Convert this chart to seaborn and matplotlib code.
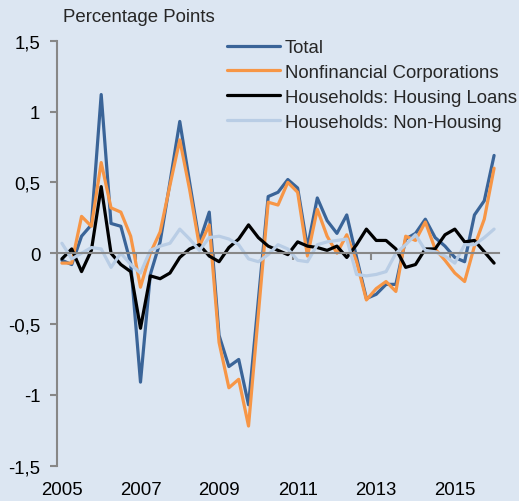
import pandas as pd
import seaborn as sns
import matplotlib.pyplot as plt

# quarterly contributions, 2005Q1 .. 2016Q1
quarters = pd.period_range("2005Q1", "2016Q1", freq="Q")

total = [-0.05, -0.08, 0.12, 0.20, 1.12, 0.21, 0.19, -0.07, -0.91, -0.15,
         0.08, 0.50, 0.93, 0.50, 0.08, 0.29, -0.58, -0.80, -0.75, -1.07,
         -0.33, 0.40, 0.43, 0.52, 0.46, 0.04, 0.39, 0.23, 0.14, 0.27,
         -0.03, -0.32, -0.29, -0.22, -0.22, 0.10, 0.14, 0.24, 0.11, 0.05,
         -0.03, -0.06, 0.27, 0.37, 0.69]
nonfin = [-0.07, -0.07, 0.26, 0.19, 0.64, 0.32, 0.29, 0.12, -0.24, 0.00,
          0.15, 0.48, 0.80, 0.45, 0.05, 0.20, -0.63, -0.95, -0.89, -1.22,
          -0.43, 0.36, 0.34, 0.50, 0.43, -0.02, 0.31, 0.12, 0.00, 0.13,
          -0.06, -0.33, -0.25, -0.20, -0.27, 0.12, 0.09, 0.22, 0.03, -0.05,
          -0.14, -0.20, 0.05, 0.24, 0.60]
housing = [-0.04, 0.03, -0.13, 0.02, 0.47, 0.00, -0.08, -0.13, -0.53, -0.16,
           -0.18, -0.14, -0.03, 0.03, 0.06, -0.02, -0.06, 0.04, 0.10, 0.20,
           0.11, 0.05, 0.02, -0.01, 0.08, 0.05, 0.04, 0.02, 0.05, -0.03,
           0.06, 0.17, 0.09, 0.09, 0.03, -0.10, -0.08, 0.03, 0.03, 0.13,
           0.17, 0.08, 0.09, 0.01, -0.07]
non_housing = [0.07, -0.04, 0.00, 0.04, 0.03, -0.10, 0.00, -0.08, -0.14, 0.02,
               0.05, 0.07, 0.17, 0.10, 0.02, 0.11, 0.12, 0.10, 0.06, -0.04,
               -0.06, -0.01, 0.06, 0.03, -0.05, -0.06, 0.06, 0.08, 0.09, 0.10,
               -0.15, -0.16, -0.15, -0.13, 0.00, 0.06, 0.13, 0.02, 0.01, -0.02,
               -0.07, 0.06, 0.06, 0.11, 0.17]

series_names = ["Total", "Nonfinancial Corporations",
                "Households: Housing Loans", "Households: Non-Housing"]
colors = ["#3A6498", "#F79646", "#000000", "#B9CDE5"]
tick_years = [2005, 2007, 2009, 2011, 2013, 2015]
y_ticks = [-1.5, -1, -0.5, 0, 0.5, 1, 1.5]
y_tick_labels = ["-1,5", "-1", "-0,5", "0", "0,5", "1", "1,5"]

bg = "#DCE6F2"
grey = "#878787"
fs = 13.4

t = quarters.year + (quarters.quarter - 1) / 4
frames = []
for name, vals in zip(series_names, [total, nonfin, housing, non_housing]):
    frames.append(pd.DataFrame({"t": t, "value": vals, "series": name}))
df = pd.concat(frames, ignore_index=True)

sns.set_theme(style="ticks", rc={"axes.facecolor": bg, "figure.facecolor": bg})
plt.rcParams["font.family"] = ["Liberation Sans", "DejaVu Sans"]

fig = plt.figure(figsize=(5.19, 5.02), dpi=100)
ax = fig.add_axes([57 / 519, 35.3 / 502, 442 / 519, 425 / 502])

sns.lineplot(data=df, x="t", y="value", hue="series", hue_order=series_names,
             palette=dict(zip(series_names, colors)), linewidth=2.3, ax=ax)

ax.set_xlim(2004.875, 2016.125)
ax.set_ylim(-1.5, 1.5)
ax.set_xlabel("")
ax.set_ylabel("")

for s in ["top", "right"]:
    ax.spines[s].set_visible(False)
ax.spines["left"].set_color(grey)
ax.spines["left"].set_linewidth(1.5)
# zero line acts as the horizontal axis
ax.spines["bottom"].set_position(("data", 0))
ax.spines["bottom"].set_color(grey)
ax.spines["bottom"].set_linewidth(1.5)

ax.set_yticks(y_ticks, y_tick_labels)
ax.tick_params(axis="y", length=5, width=1.5, color=grey, pad=7,
               labelsize=fs, labelcolor="black")

ax.set_xticks([])
ax.set_xticks([y - 0.125 for y in tick_years[1:]], minor=True)
ax.tick_params(axis="x", which="minor", length=5, width=1.5, color=grey,
               direction="out")

# year labels sit at the bottom of the plot
sec = ax.secondary_xaxis("bottom")
sec.set_xticks(tick_years)
sec.set_xticklabels([str(y) for y in tick_years])
sec.spines["bottom"].set_visible(False)
sec.tick_params(length=0, pad=11, labelsize=fs, labelcolor="black")

handles, labels = ax.get_legend_handles_labels()
for h in handles:
    h.set_linewidth(2.3)
ax.legend(handles, labels, loc="upper left",
          bbox_to_anchor=(227 / 519, 1 - 40 / 502),
          bbox_transform=fig.transFigure, frameon=False, fontsize=fs,
          handlelength=2.85, handletextpad=0.27, labelspacing=0.42,
          borderpad=0, borderaxespad=0)

fig.text(63 / 519, 1 - 17 / 502, "Percentage Points", fontsize=fs,
         va="center", ha="left")

fig.savefig("out.png", dpi=100, facecolor=bg)
